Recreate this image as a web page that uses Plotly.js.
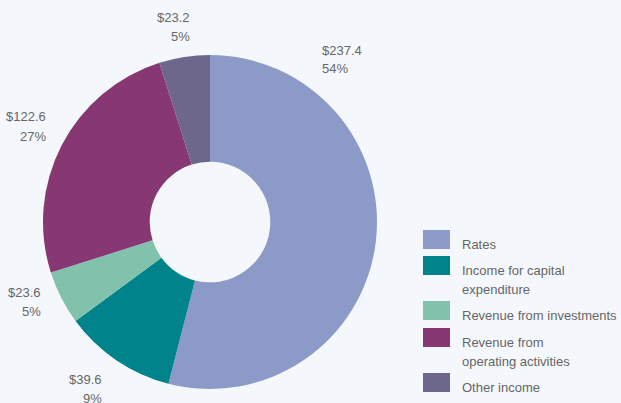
<!DOCTYPE html>
<html>
<head>
<meta charset="utf-8">
<script src="https://cdn.plot.ly/plotly-3.0.1.min.js"></script>
<style>html,body{margin:0;padding:0;background:#f4f8fc;}#chart{width:621px;height:403px;}</style>
</head>
<body>
<div id="chart"></div>
<script>
// Data
const categories = ["Rates", "Income for capital expenditure", "Revenue from investments", "Revenue from operating activities", "Other income"];
const dollarValues = [237.4, 39.6, 23.6, 122.6, 23.2];       // printed values ($)
const percentLabels = ["54%", "9%", "5%", "27%", "5%"];       // printed percentages
const sliceShares = [54.0, 10.9, 5.2, 25.0, 4.9];             // slice sizes as drawn in the picture (%)
const legendLines = [["Rates"], ["Income for capital", "expenditure"], ["Revenue from investments"], ["Revenue from", "operating activities"], ["Other income"]];
const colors = ["#8c9ac7", "#00838a", "#82c2ad", "#873873", "#6d678b"];

const W = 621, H = 403;
const bg = "#f4f8fc";
const txtColor = "#666666";
const font = "Liberation Sans, Arial, sans-serif";

const px = x => x / W;
const py = y => 1 - y / H;

// Data label placement (pixel): [x, anchor, yFirstLine]
const labelPos = [
  [320, "left", 50],
  [104, "right", 379],
  [43, "right", 292],
  [48, "right", 117],
  [192, "right", 18]
];

const annotations = [];
dollarValues.forEach((v, i) => {
  const [x, anchor, y] = labelPos[i];
  annotations.push({xref: "paper", yref: "paper", x: px(x), y: py(y), xanchor: anchor, yanchor: "middle",
    text: "$" + v.toFixed(1), showarrow: false, font: {family: font, size: 13, color: txtColor}});
  annotations.push({xref: "paper", yref: "paper", x: px(x), y: py(y + 19), xanchor: anchor, yanchor: "middle",
    text: percentLabels[i], showarrow: false, font: {family: font, size: 13, color: txtColor}});
});

// Custom legend
const swatchTops = [230, 256, 301, 328, 373];
const shapes = [];
categories.forEach((c, i) => {
  const t = swatchTops[i];
  shapes.push({type: "rect", xref: "paper", yref: "paper", x0: px(423), x1: px(450), y0: py(t), y1: py(t + 19),
    fillcolor: colors[i], line: {width: 0}});
  legendLines[i].forEach((ln, j) => {
    annotations.push({xref: "paper", yref: "paper", x: px(460), y: py(t + 14 + j * 19), xanchor: "left", yanchor: "middle",
      text: ln, showarrow: false, font: {family: font, size: 13, color: txtColor}});
  });
});

const cx = 210, cy = 222, r = 167;
const data = [{
  type: "pie",
  labels: categories,
  values: sliceShares,
  customdata: dollarValues,
  marker: {colors: colors, line: {width: 0}},
  hole: 0.361,
  sort: false,
  direction: "clockwise",
  rotation: 0,
  textinfo: "none",
  hovertemplate: "%{label}<br>$%{customdata}<extra></extra>",
  showlegend: false,
  domain: {x: [px(cx - r), px(cx + r)], y: [py(cy + r), py(cy - r)]}
}];

const layout = {
  width: W, height: H,
  margin: {l: 0, r: 0, t: 0, b: 0},
  paper_bgcolor: bg, plot_bgcolor: bg,
  showlegend: false,
  annotations: annotations,
  shapes: shapes,
  font: {family: font, color: txtColor}
};

Plotly.newPlot("chart", data, layout, {displayModeBar: false});
</script>
</body>
</html>
